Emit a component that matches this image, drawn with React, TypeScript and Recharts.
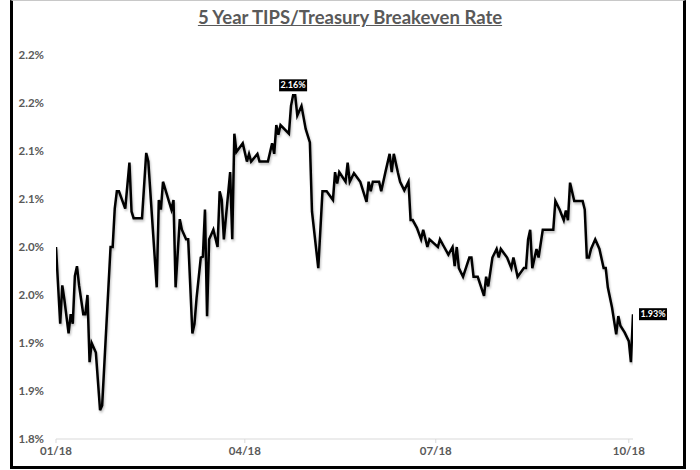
import React from 'react';
import { LineChart, Line, XAxis, YAxis } from 'recharts';

// calendar days since 01/01/2018
const days = [
  0, 2, 3, 4, 6, 7, 8, 9, 10, 11, 13, 14, 15, 16, 17, 19, 21, 22, 26, 27,
  28, 29, 30, 33, 35, 36, 37, 41, 43, 44, 48, 49, 50, 51, 55, 56, 57, 59, 60, 62,
  63, 65, 66, 67, 69, 70, 71, 72, 73, 75, 77, 78, 79, 80, 83, 84, 85, 86, 89, 91,
  92, 93, 96, 97, 101, 103, 104, 105, 106, 107, 111, 112, 113, 114, 115, 117, 119, 121, 122, 125,
  127, 129, 132, 133, 134, 135, 138, 139, 140, 142, 145, 148, 149, 150, 151, 154, 155, 157, 159, 160,
  161, 163, 164, 166, 168, 169, 170, 172, 174, 175, 177, 178, 180, 182, 183, 185, 187, 189, 190, 191,
  192, 194, 197, 198, 199, 201, 204, 205, 206, 208, 210, 211, 212, 215, 217, 218, 220, 223, 224, 225,
  226, 227, 229, 230, 232, 233, 237, 238, 240, 242, 243, 244, 245, 247, 251, 252, 253, 254, 255, 257,
  259, 261, 262, 263, 265, 267, 268, 269, 271, 273, 274, 275,
];

// breakeven rate, %
const rates = [
  2.0, 1.92, 1.96, 1.945, 1.91, 1.93, 1.92, 1.97, 1.98, 1.96, 1.93, 1.93, 1.95, 1.88, 1.9, 1.89, 1.83, 1.835, 2.0, 2.0,
  2.04, 2.058, 2.058, 2.04, 2.088, 2.037, 2.03, 2.03, 2.098, 2.089, 1.958, 2.049, 2.039, 2.068, 2.039, 2.049, 1.958, 2.029, 2.018, 2.008,
  2.008, 1.91, 1.92, 1.947, 1.989, 1.99, 2.039, 1.928, 2.008, 2.018, 2.0, 2.058, 2.049, 2.008, 2.078, 2.008, 2.118, 2.099, 2.108, 2.089,
  2.097, 2.089, 2.097, 2.089, 2.089, 2.108, 2.097, 2.127, 2.117, 2.127, 2.118, 2.147, 2.158, 2.158, 2.137, 2.147, 2.123, 2.109, 2.037, 1.978,
  2.058, 2.058, 2.049, 2.078, 2.066, 2.078, 2.068, 2.088, 2.068, 2.077, 2.068, 2.047, 2.068, 2.058, 2.068, 2.068, 2.058, 2.078, 2.097, 2.078,
  2.097, 2.077, 2.068, 2.059, 2.068, 2.028, 2.028, 2.02, 2.008, 2.018, 2.0, 2.008, 2.004, 2.0, 2.008, 2.0, 1.992, 2.0, 1.98, 2.0,
  1.978, 1.969, 1.989, 1.989, 1.969, 1.969, 1.949, 1.969, 1.959, 1.989, 1.998, 1.989, 1.998, 1.989, 1.978, 1.989, 1.969, 1.978, 1.978, 2.008,
  2.018, 1.978, 1.998, 1.989, 2.018, 2.018, 2.018, 2.048, 2.039, 2.028, 2.038, 2.028, 2.067, 2.048, 2.048, 2.039, 1.989, 1.989, 1.998, 2.008,
  1.998, 1.978, 1.978, 1.958, 1.937, 1.909, 1.928, 1.918, 1.911, 1.902, 1.88, 1.93,
];

const xTicks = [0, 90, 181, 273];
const xTickLabels = ['01/18', '04/18', '07/18', '10/18'];
const yTicks = [1.8, 1.85, 1.9, 1.95, 2.0, 2.05, 2.1, 2.15, 2.2];

const data = days.map((d, i) => ({ day: d, rate: rates[i] }));
const peakIndex = rates.indexOf(Math.max(...rates));
const lastIndex = rates.length - 1;

const axisFont = { fontFamily: 'Lato', fontWeight: 700, fontSize: 11.5, fill: '#595959' };

const PointTag = (props: any) => {
  const { x, y, index, value } = props;
  if (index !== peakIndex && index !== lastIndex) return null;
  const w = 28;
  const h = 12;
  const bx = index === peakIndex ? x - w / 2 : x + 6;
  const by = index === peakIndex ? y - h - 4 : y - h / 2;
  return (
    <g>
      <rect x={bx} y={by} width={w} height={h} fill="#000" />
      <text x={bx + w / 2} y={by + h / 2 + 3} textAnchor="middle" fill="#fff"
        style={{ fontFamily: 'Lato', fontWeight: 700, fontSize: 9 }}>
        {Number(value).toFixed(2) + '%'}
      </text>
    </g>
  );
};

export default function App() {
  return (
    <div style={{ position: 'absolute', left: 0, top: 0, width: 700, height: 470, background: '#fff' }}>
      <div style={{
        position: 'absolute', left: 10, top: 0, width: 676, height: 469, boxSizing: 'border-box',
        borderLeft: '3px solid #000', borderRight: '3px solid #000', borderBottom: '3px solid #000',
        borderTop: '1px solid #c8c8c8',
      }} />
      <div style={{
        position: 'absolute', left: 0, width: 700, top: 6, textAlign: 'center',
        fontFamily: 'Lato', fontWeight: 700, fontSize: 18.5, color: '#595959', textDecoration: 'underline',
      }}>
        5 Year TIPS/Treasury Breakeven Rate
      </div>
      <div style={{ position: 'absolute', left: 0, top: 0 }}>
        <LineChart width={700} height={470} data={data} margin={{ top: 55, right: 67, bottom: 1, left: 0 }}>
          <XAxis dataKey="day" type="number" domain={[0, 275]} ticks={xTicks}
            tickFormatter={(v: number) => xTickLabels[xTicks.indexOf(v)]}
            stroke="#d9d9d9" tickSize={4} tickMargin={4} tick={axisFont} allowDataOverflow />
          <YAxis type="number" domain={[1.8, 2.2]} ticks={yTicks} width={56}
            tickFormatter={(v: number) => (Math.round(v * 10) / 10).toFixed(1) + '%'}
            axisLine={false} tickLine={false} tickSize={0} tickMargin={12} tick={axisFont} />
          <Line dataKey="rate" stroke="#000" strokeWidth={2.5} dot={false}
            isAnimationActive={false} label={<PointTag />}
            style={{ filter: 'drop-shadow(1px 2px 1px rgba(0,0,0,0.25))' }} />
        </LineChart>
      </div>
    </div>
  );
}
